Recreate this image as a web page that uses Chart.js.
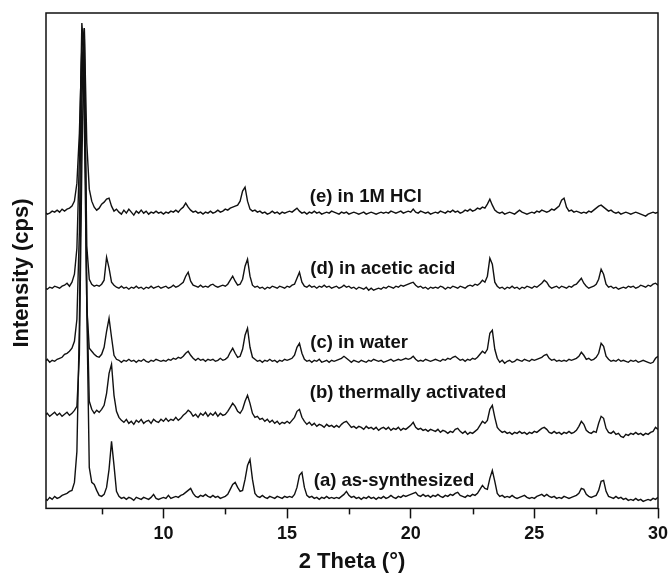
<!DOCTYPE html>
<html>
<head>
<meta charset="utf-8">
<title>XRD patterns</title>
<script src="https://cdn.jsdelivr.net/npm/chart.js@4.4.1/dist/chart.umd.min.js"></script>
<style>
  html, body { margin: 0; padding: 0; background: #fff; }
  #wrap { width: 670px; height: 573px; }
</style>
</head>
<body>
<div id="wrap"><canvas id="xrd" width="670" height="573"></canvas></div>
<script>
// ═══════════════════════════════════════════════════
//  Powder XRD patterns — stacked
// ═══════════════════════════════════════════════════

// ── Data ───────────────────────────────────────────
// scan grid: 2θ from 5.2° in 0.1° steps, one value per step (cps above the pattern's own baseline)
const angleStart = 5.2;
const angleStep  = 0.1;

const seriesNames  = ['(a) as-synthesized', '(b) thermally activated', '(c) in water', '(d) in acetic acid', '(e) in 1M HCl'];
const stackOffsets = [9, 93, 147, 220, 295];

const asSynthesized = [
  1, -1, 2, 0, 3, 1, 2, 4,                  // 5.2–5.9
  5, 6, 8, 9, 17, 48, 175, 400, 461, 190,   // 6
  32, 17, 15, 9, 4, 3, 5, 12, 30, 58,       // 7
  34, 8, 3, 1, 2, 0, 2, 1, -1, 2,           // 8
  1, 0, 2, 1, 0, 2, 5, 1, 0, 1,             // 9
  2, 1, 4, 1, 2, 3, 2, 4, 5, 7,             // 10
  9, 11, 6, 3, 2, 4, 3, 5, 3, 2,            // 11
  4, 2, 3, 1, 2, 3, 5, 10, 15, 17,          // 12
  12, 8, 9, 20, 34, 40, 20, 6, 3, 2,        // 13
  4, 2, 1, 3, 2, 1, 3, 2, 1, 3,             // 14
  2, 3, 2, 5, 12, 24, 27, 12, 4, 2,         // 15
  3, 1, 2, 0, 2, 1, 3, 1, 2, 1,             // 16
  2, 1, 3, 5, 8, 4, 2, 3, 1, 2,             // 17
  0, 2, 1, 3, 1, 2, 0, 2, 1, 3,             // 18
  1, 2, 4, 2, 1, 3, 2, 4, 3, 4,             // 19
  5, 6, 7, 4, 3, 5, 3, 4, 2, 4,             // 20
  3, 5, 3, 2, 4, 3, 5, 4, 6, 7,             // 21
  4, 3, 2, 4, 3, 5, 4, 6, 10, 14,           // 22
  11, 10, 21, 29, 18, 6, 3, 4, 2, 3,        // 23
  2, 4, 2, 1, 2, 3, 4, 2, 1, 2,             // 24
  1, 3, 4, 5, 3, 5, 3, 2, 3, 1,             // 25
  2, 1, 3, 2, 1, 2, 3, 4, 6, 11,            // 26
  10, 5, 3, 2, 3, 4, 9, 18, 19, 8,          // 27
  3, 2, 1, 3, 1, 2, 0, 1, -1, 0,            // 28
  -1, 1, -1, 0, -2, -1, 0, -1, 1, 0,        // 29
  2                                         // 30
];

const thermallyActivated = [
  0, 2, -1, 1, 3, 0, 2, -1,
  1, 3, 0, 2, 5, 9, 60, 250, 387, 120,
  14, 6, 2, 5, 3, 6, 10, 22, 42, 51,
  20, 4, -2, -5, -7, -4, -8, -6, -9, -5,
  -7, -4, -8, -6, -5, -8, -4, -6, -7, -4,
  -6, -3, -6, -4, -5, -2, -5, -3, 0, 2,
  5, 3, -1, 1, -2, 2, 0, 3, -1, 2,
  0, 3, -1, 2, 0, 1, 4, 8, 12, 9,
  4, 2, 6, 14, 20, 12, 2, -2, -1, -4,
  -3, -6, -4, -7, -5, -8, -6, -9, -7, -8,
  -6, -8, -5, -2, 4, 6, -2, -6, -9, -7,
  -10, -8, -11, -9, -10, -12, -9, -11, -10, -12,
  -10, -12, -9, -7, -6, -9, -12, -11, -13, -11,
  -12, -14, -11, -13, -12, -14, -12, -15, -13, -12,
  -14, -12, -15, -13, -14, -12, -15, -13, -14, -12,
  -10, -7, -12, -14, -13, -15, -14, -16, -14, -15,
  -16, -14, -17, -15, -16, -18, -16, -17, -14, -13,
  -16, -18, -16, -19, -17, -18, -16, -14, -10, -6,
  -8, -5, 6, 10, -2, -12, -15, -17, -16, -18,
  -17, -19, -17, -18, -16, -18, -17, -19, -17, -18,
  -16, -17, -15, -13, -12, -14, -17, -18, -16, -18,
  -17, -19, -17, -18, -16, -18, -17, -15, -11, -6,
  -9, -15, -17, -18, -16, -17, -8, -1, -3, -13,
  -17, -18, -16, -19, -18, -21, -22, -19, -20, -18,
  -19, -17, -19, -18, -20, -18, -19, -17, -16, -12,
  -14
];

const inWater = [
  0, 2, -1, 1, 0, 2, 3, 4,
  7, 8, 10, 13, 20, 42, 130, 323, 240, 55,
  13, 10, 7, 5, 4, 7, 14, 30, 43, 24,
  6, 2, 1, -1, 1, 0, 2, 0, 1, -1,
  1, 0, 2, 0, -1, 1, 0, 2, 1, 0,
  1, 0, 2, 1, 3, 2, 4, 3, 5, 8,
  10, 6, 3, 1, 3, 1, 2, 0, 2, 1,
  2, 0, 1, 3, 1, 2, 4, 9, 13, 8,
  4, 5, 12, 26, 33, 14, 4, 2, 0, 1,
  -1, 1, 0, 2, 0, 1, -1, 1, 0, 2,
  1, 2, 3, 6, 14, 18, 8, 2, 0, 1,
  -1, 1, 0, 2, -1, 0, 1, -1, 1, 0,
  1, 2, 3, 5, 3, 1, -1, 1, 0, -1,
  1, 0, -1, 1, 0, 2, 1, 0, 1, -1,
  0, 1, 2, 0, 1, 2, 1, 2, 3, 2,
  3, 5, 2, 0, 1, 0, 2, 1, 0, 1,
  2, 1, 0, 2, 1, 3, 2, 4, 5, 3,
  1, 2, 0, 2, 1, 3, 2, 4, 7, 10,
  8, 12, 28, 31, 12, 3, -1, 1, -2, 0,
  1, -1, 0, 2, 1, 0, 2, 1, 0, 2,
  1, 2, 3, 4, 6, 7, 3, 1, 2, 0,
  1, 0, 1, 0, 2, 1, 2, 3, 5, 9,
  6, 2, 3, 1, 2, 4, 8, 18, 15, 5,
  2, 0, 1, 0, 2, 0, 1, 0, -1, 1,
  0, 1, -1, 0, 1, 0, -1, -2, -1, 3,
  5
];

const inAceticAcid = [
  0, -1, 1, 0, 2, 1, 0, 2,
  3, 5, 2, 6, 14, 40, 130, 265, 230, 42,
  9, 4, 2, 3, 2, 4, 8, 31, 20, 6,
  3, 1, 0, 2, 0, 1, -1, 1, 0, 2,
  0, 1, -1, 1, 0, 2, 0, 1, 2, 0,
  1, 2, 0, 1, 3, 1, 2, 4, 6, 12,
  16, 7, 3, 2, 1, 3, 1, 2, 1, 3,
  4, 2, 1, 2, 3, 2, 4, 8, 12, 7,
  3, 4, 9, 22, 29, 12, 3, 1, 2, 0,
  1, -1, 1, 0, 2, 1, 0, 2, 1, 0,
  2, 1, 3, 4, 10, 16, 6, 2, 1, 3,
  1, 2, 0, 2, 1, 3, 1, 2, 0, 1,
  2, 0, 1, 3, 1, 2, 0, 1, -1, 1,
  0, -1, 1, -2, 0, -2, -1, 0, -1, 1,
  0, 2, 1, 0, 2, 1, 3, 2, 3, 4,
  5, 6, 3, 1, 2, 0, 1, -1, 1, 0,
  1, 0, 2, 1, -1, 1, 0, 2, 1, 0,
  2, 1, 0, 2, 3, 2, 4, 3, 5, 8,
  6, 12, 30, 24, 6, 2, 0, 1, -1, 1,
  0, 2, 0, 1, -1, 1, 0, 2, 1, 0,
  2, 1, 3, 5, 8, 6, 2, 0, 1, 2,
  0, 2, 1, 0, 2, 1, 3, 4, 7, 10,
  5, 2, 0, 1, 2, 4, 9, 19, 14, 4,
  1, 2, 0, 1, -1, 0, 1, 0, 2, 1,
  2, 0, 1, 3, 2, 1, 3, 2, 4, 5,
  3
];

const inHCl = [
  1, -1, 0, 2, 1, 3, 1, 4,
  2, 4, 5, 7, 12, 30, 80, 165, 185, 70,
  24, 12, 6, 3, 5, 9, 11, 14, 15, 7,
  2, 4, 1, -1, 3, 0, 4, 1, -2, 2,
  0, 3, 0, 2, -1, 1, 0, 2, 0, 1,
  -1, 1, 0, 2, 1, 3, 1, 4, 6, 10,
  6, 3, 1, 2, 0, 1, -1, 1, 0, 2,
  0, 1, 3, 1, 2, 4, 3, 5, 6, 7,
  8, 12, 22, 26, 12, 4, 2, 3, 1, 2,
  0, 1, -1, 0, 2, 0, 1, -1, 1, 0,
  1, 2, 1, 3, 5, 2, 0, 1, -1, 1,
  0, 2, 0, 1, -1, 0, 1, 0, 2, 1,
  0, -1, 1, 0, 1, -1, 0, 1, 0, -1,
  0, 1, -1, 0, 1, 0, -1, 0, 1, 0,
  1, 0, 2, 1, 0, 1, 2, 0, 1, 2,
  1, 4, 1, 0, 2, 1, 0, 1, -1, 0,
  1, 0, 2, 1, 0, 2, 1, 3, 1, 2,
  0, 1, 3, 2, 4, 2, 3, 5, 4, 6,
  5, 9, 14, 8, 3, 1, 0, 1, -1, 0,
  1, 0, -1, 1, 3, 1, 0, -1, 0, 1,
  0, 2, 1, 3, 2, 1, 2, 4, 3, 5,
  7, 13, 15, 6, 2, 3, 1, 2, 1, 0,
  1, 0, 2, 1, 3, 5, 7, 8, 6, 4,
  2, 3, 1, 0, 1, -1, 0, 1, 0, -1,
  0, 1, 0, -1, -2, -3, -1, 0, 1, 0,
  1
];

const patterns = [asSynthesized, thermallyActivated, inWater, inAceticAcid, inHCl];

const majorTicks = [10, 15, 20, 25, 30];
const minorTicks = [7.5, 12.5, 17.5, 22.5, 27.5];

// where each pattern's caption starts (2θ, stacked cps)
const captionAnchors = [[16.08, 27], [15.92, 115], [15.94, 165], [15.94, 239], [15.92, 311]];

// ── Style ──────────────────────────────────────────
const ink  = '#111';
const font = '"Liberation Sans", Arial, Helvetica, sans-serif';
Chart.defaults.font.family = font;
Chart.defaults.color = ink;

// ── Frame, minor ticks, y title and captions ───────
const framePlugin = {
  id: 'frame',
  afterDatasetsDraw(chart) {
    const { ctx, chartArea: a, scales: { x, y } } = chart;
    ctx.save();
    ctx.strokeStyle = ink;
    ctx.lineWidth = 1.5;
    ctx.strokeRect(a.left, a.top, a.right - a.left, a.bottom - a.top);

    minorTicks.forEach(v => {
      const px = Math.round(x.getPixelForValue(v)) + 0.5;
      ctx.beginPath();
      ctx.moveTo(px, a.bottom);
      ctx.lineTo(px, a.bottom + 6);
      ctx.stroke();
    });

    ctx.fillStyle = ink;
    ctx.textBaseline = 'middle';

    // y title sits a little below the middle of the frame, as in the figure
    ctx.save();
    ctx.translate(22, 273);
    ctx.rotate(-Math.PI / 2);
    ctx.textAlign = 'center';
    ctx.font = 'bold 22px ' + font;
    ctx.fillText('Intensity (cps)', 0, 0);
    ctx.restore();

    ctx.font = 'bold 18.5px ' + font;
    ctx.textAlign = 'left';
    seriesNames.forEach((name, i) => {
      const [lx, ly] = captionAnchors[i];
      ctx.fillText(name, x.getPixelForValue(lx), y.getPixelForValue(ly));
    });
    ctx.restore();
  }
};

// ── Chart ──────────────────────────────────────────
const datasets = patterns.map((vals, i) => ({
  label: seriesNames[i],
  data: vals.map((v, k) => ({ x: +(angleStart + k * angleStep).toFixed(1), y: v + stackOffsets[i] })),
  borderColor: '#111',
  borderWidth: 1.4,
  pointRadius: 0,
  tension: 0,
  fill: false
}));

new Chart(document.getElementById('xrd'), {
  type: 'line',
  data: { datasets },
  options: {
    responsive: false,
    animation: false,
    layout: { padding: { top: 13, right: 12, bottom: 0, left: 46 } },
    plugins: { legend: { display: false }, tooltip: { enabled: false } },
    scales: {
      x: {
        type: 'linear',
        min: 5.25,
        max: 30,
        afterBuildTicks: scale => { scale.ticks = majorTicks.map(v => ({ value: v })); },
        // the "30" label may hang past the frame; keep the plot edge where the figure has it
        afterFit: scale => { scale.paddingLeft = 0; scale.paddingRight = 0; },
        ticks: { font: { size: 18, weight: 'bold' }, color: ink, padding: 5, maxRotation: 0, autoSkip: false },
        grid: { display: true, drawOnChartArea: false, drawTicks: true, tickLength: 10, tickWidth: 1.5, tickColor: ink, color: ink },
        border: { display: false },
        title: { display: true, text: '2 Theta (°)', font: { size: 22, weight: 'bold', lineHeight: 1 }, color: ink, padding: { top: 1, bottom: 0 } }
      },
      y: {
        display: false,
        min: 0,
        max: 495
      }
    }
  },
  plugins: [framePlugin]
});
</script>
</body>
</html>
